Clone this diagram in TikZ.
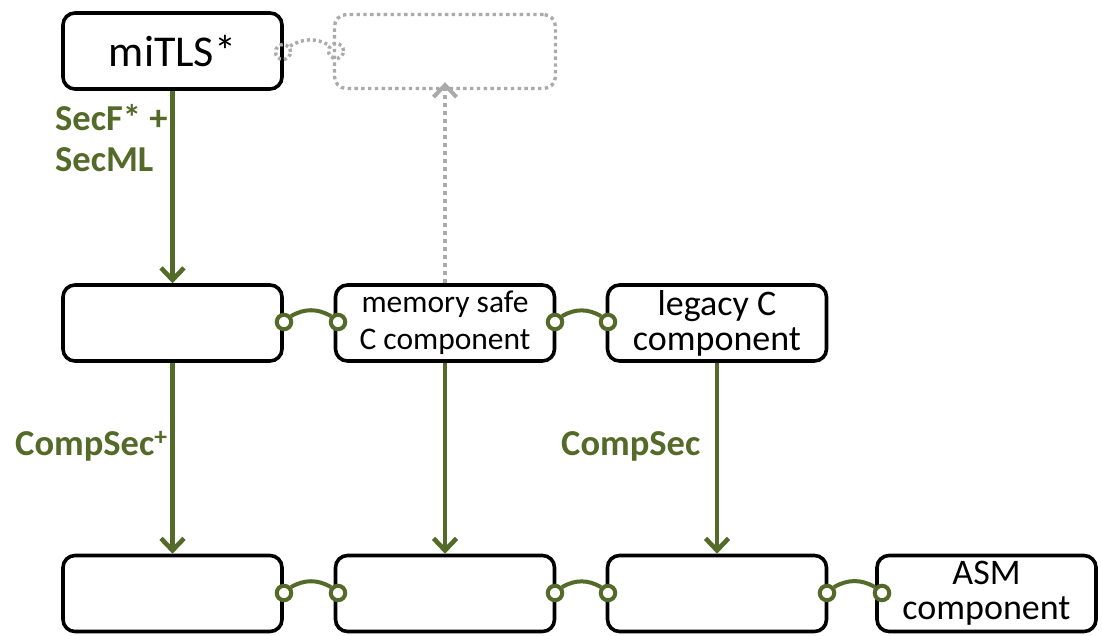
\documentclass[tikz,border=0pt]{standalone}
\usepackage{fontspec}
\setmainfont{Carlito}
\usetikzlibrary{arrows.meta}
\definecolor{secgreen}{RGB}{84,106,40}
\definecolor{ghost}{RGB}{170,170,170}

\begin{document}
\begin{tikzpicture}[x=1pt,y=-1pt,
  comp/.style={draw=black, line width=3.6pt, rounded corners=12pt,
    minimum width=219pt, minimum height=76pt, inner sep=0pt, align=center},
  ghostbox/.style={draw=ghost, line width=3.4pt, dash pattern=on 3.4pt off 3.4pt,
    rounded corners=12pt, minimum width=221pt, minimum height=74pt, inner sep=0pt},
  port/.style={circle, draw=secgreen, fill=white, line width=4pt,
    minimum size=14.5pt, inner sep=0pt},
  ghostport/.style={circle, draw=ghost, line width=3.4pt, dash pattern=on 3pt off 3pt,
    minimum size=15pt, inner sep=0pt},
  link/.style={draw=secgreen, line width=4pt},
  ghostlink/.style={draw=ghost, line width=3.4pt, dash pattern=on 3pt off 3pt},
  flow/.style={draw=secgreen, line width=4.6pt,
    -{Straight Barb[length=12pt,width=23pt]}},
  ghostflow/.style={draw=ghost, line width=4pt, dash pattern=on 4pt off 4pt,
    -{Straight Barb[length=12pt,width=23pt]}},
  lbl/.style={text=secgreen, font=\bfseries\fontsize{36.5}{41}\selectfont,
    inner sep=0pt, align=left},
  big/.style={font=\fontsize{44}{48}\selectfont},
  mid/.style={font=\fontsize{31.5}{37}\selectfont},
  std/.style={font=\fontsize{36}{35}\selectfont}
]
\useasboundingbox (0,0) rectangle (1102,636);

% top row
\node[comp, big] (tls) at (172.5,51) {miTLS*};
\node[ghostbox] (spare) at (445,51.5) {};

% middle row
\node[comp] (m1) at (172.5,323) {};
\node[comp, mid] (m2) at (445,323) {memory safe\\C component};
\node[comp, std] (m3) at (717,323) {legacy C\\component};

% bottom row
\node[comp] (b1) at (172.5,593.5) {};
\node[comp] (b2) at (445,593.5) {};
\node[comp] (b3) at (717,593.5) {};
\node[comp, std] (b4) at (986.5,593.5) {ASM\\component};

% compilation arrows
\draw[flow] (tls.south) -- (m1.north);
\draw[flow] (m1.south) -- (b1.north);
\draw[flow] (m2.south) -- (b2.north);
\draw[flow] (m3.south) -- (b3.north);
\coordinate (up) at ([yshift=8pt]spare.south);
\draw[ghostflow] (m2.north) -- (up);

% interface links, middle row
\node[port] (p1) at (284,322) {};
\node[port] (p2) at (338,322) {};
\node[port] (p3) at (555,322) {};
\node[port] (p4) at (608,322) {};
\draw[link] (p1.40) to[bend left=30] (p2.140);
\draw[link] (p3.40) to[bend left=30] (p4.140);

% interface links, bottom row
\node[port] (q1) at (284,593) {};
\node[port] (q2) at (338,593) {};
\node[port] (q3) at (555,593) {};
\node[port] (q4) at (608,593) {};
\node[port] (q5) at (827,593) {};
\node[port] (q6) at (882,593) {};
\draw[link] (q1.40) to[bend left=30] (q2.140);
\draw[link] (q3.40) to[bend left=30] (q4.140);
\draw[link] (q5.40) to[bend left=30] (q6.140);

% pending interface to the spare box
\node[ghostport] (g1) at (283,52) {};
\node[ghostport] (g2) at (336,51) {};
\draw[ghostlink] (g1.40) to[bend left=30] (g2.140);

% labels
\node[lbl, anchor=base west] (secf) at (55,172) {SecF* +\\SecML};
\node[lbl, anchor=base west] (cs1) at (15,455) {CompSec\textsuperscript{+}};
\node[lbl, anchor=base west] (cs2) at (561,455) {CompSec};
\end{tikzpicture}
\end{document}
